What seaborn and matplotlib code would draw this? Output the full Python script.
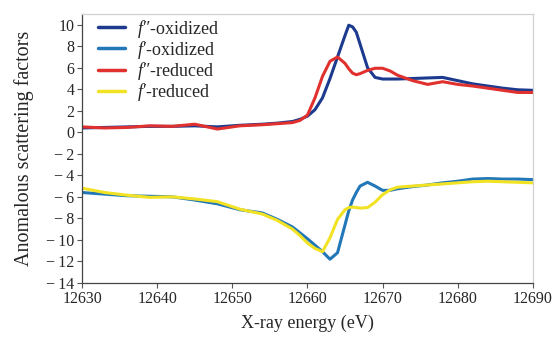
import numpy as np
import pandas as pd
import seaborn as sns
import matplotlib
matplotlib.use('Agg')
import matplotlib.pyplot as plt

# energy grid (eV), denser around the absorption edge
energy = [12630, 12633, 12636, 12639, 12642, 12645, 12648, 12651, 12654, 12656,
          12658, 12659, 12660, 12661, 12662, 12663, 12664, 12665, 12665.5, 12666,
          12666.5, 12667, 12668, 12669, 12670, 12671, 12672, 12674, 12676, 12678,
          12680, 12682, 12684, 12686, 12688, 12690]

f2_oxidized = [0.4, 0.45, 0.5, 0.55, 0.55, 0.6, 0.5, 0.65, 0.75, 0.85,
               1.0, 1.2, 1.5, 2.1, 3.2, 5.0, 7.0, 9.0, 9.95, 9.8,
               9.3, 8.2, 6.0, 5.1, 4.95, 4.95, 4.95, 5.0, 5.05, 5.1,
               4.8, 4.5, 4.3, 4.1, 3.95, 3.9]

f1_oxidized = [-5.6, -5.75, -5.9, -5.95, -6.0, -6.3, -6.65, -7.2, -7.5, -8.1,
               -8.8, -9.35, -9.9, -10.5, -11.1, -11.8, -11.2, -8.6, -7.3, -6.3,
               -5.6, -5.0, -4.65, -5.0, -5.4, -5.4, -5.25, -5.05, -4.9, -4.7,
               -4.55, -4.35, -4.3, -4.35, -4.35, -4.4]

f2_reduced = [0.5, 0.4, 0.45, 0.6, 0.55, 0.75, 0.3, 0.6, 0.7, 0.8,
              0.9, 1.1, 1.6, 3.2, 5.2, 6.6, 7.0, 6.4, 5.9, 5.5,
              5.35, 5.45, 5.75, 5.95, 5.95, 5.7, 5.3, 4.8, 4.45, 4.7,
              4.45, 4.3, 4.1, 3.9, 3.7, 3.7]

f1_reduced = [-5.2, -5.6, -5.85, -6.05, -6.0, -6.2, -6.45, -7.15, -7.6, -8.2,
              -9.0, -9.6, -10.3, -10.8, -11.1, -9.8, -8.1, -7.2, -7.0, -6.95,
              -7.0, -7.05, -7.0, -6.5, -5.8, -5.35, -5.1, -5.0, -4.9, -4.8,
              -4.7, -4.6, -4.55, -4.6, -4.65, -4.7]

series_names = ["$f$\u2033-oxidized", "$f$\u2032-oxidized",
                "$f$\u2033-reduced", "$f$\u2032-reduced"]
series_values = [f2_oxidized, f1_oxidized, f2_reduced, f1_reduced]
colors = ['#1c3a8e', '#2277b8', '#e0312f', '#f2e224']

xticks = [12630, 12640, 12650, 12660, 12670, 12680, 12690]
yticks = [-14, -12, -10, -8, -6, -4, -2, 0, 2, 4, 6, 8, 10]

# long-form table for seaborn
df = pd.concat([pd.DataFrame({'energy': energy, 'value': v, 'series': n})
                for n, v in zip(series_names, series_values)], ignore_index=True)

sns.set_style('ticks')
plt.rcParams['font.family'] = ['Liberation Serif', 'DejaVu Serif']
plt.rcParams['mathtext.fontset'] = 'custom'
plt.rcParams['mathtext.it'] = 'Liberation Serif:italic'
plt.rcParams['mathtext.rm'] = 'Liberation Serif'

fig = plt.figure(figsize=(5.55, 3.4), dpi=100)
ax = fig.add_axes([0.148, 0.168, 0.812, 0.791])

sns.lineplot(data=df, x='energy', y='value', hue='series', hue_order=series_names,
             palette=colors, linewidth=2.2, ax=ax, sort=False)

ax.set_xlim(12630, 12690)
ax.set_ylim(-14, 11)
ax.set_xticks(xticks)
ax.set_xticklabels([str(t) for t in xticks])
ax.set_yticks(yticks)
ax.set_yticklabels([('\u2212\u2009' + str(-t)) if t < 0 else str(t) for t in yticks])
ax.tick_params(labelsize=11.5, length=3.5, width=0.8, color='#555555', pad=2)

for side in ['left', 'bottom']:
    ax.spines[side].set_color('#444444')
    ax.spines[side].set_linewidth(0.9)
for side in ['top', 'right']:
    ax.spines[side].set_visible(True)
    ax.spines[side].set_color('#d0d0d0')
    ax.spines[side].set_linewidth(0.9)

ax.set_xlabel('X-ray energy (eV)', fontsize=13, labelpad=6)
ax.set_ylabel('Anomalous scattering factors', fontsize=14.5, labelpad=9)

leg = ax.legend(loc='upper left', frameon=False, fontsize=13, handlelength=1.45,
                handletextpad=0.7, labelspacing=-0.05, borderaxespad=0.0,
                bbox_to_anchor=(0.02, 1.013))
for line in leg.get_lines():
    line.set_linewidth(2.5)

fig.savefig('out.png', dpi=100)
